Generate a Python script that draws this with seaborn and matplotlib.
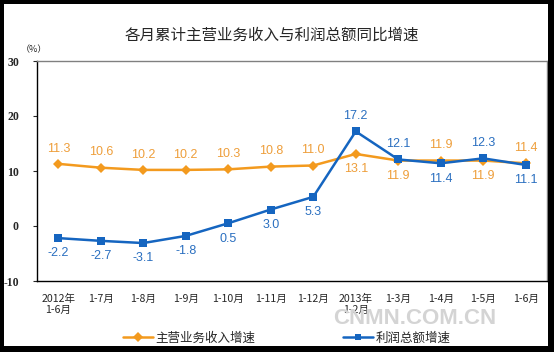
import matplotlib
matplotlib.use('Agg')
import matplotlib.pyplot as plt
import seaborn as sns
import pandas as pd
from matplotlib.patches import Rectangle
from matplotlib.lines import Line2D

categories = ["2012年\n1-6月", "1-7月", "1-8月", "1-9月", "1-10月", "1-11月", "1-12月",
              "2013年\n1-2月", "1-3月", "1-4月", "1-5月", "1-6月"]
revenue = [11.3, 10.6, 10.2, 10.2, 10.3, 10.8, 11.0, 13.1, 11.9, 11.9, 11.9, 11.4]
profit = [-2.2, -2.7, -3.1, -1.8, 0.5, 3.0, 5.3, 17.2, 12.1, 11.4, 12.3, 11.1]
revenue_label_side = ['above'] * 7 + ['below', 'below', 'above', 'below', 'above']
profit_label_side = ['below'] * 7 + ['above', 'above', 'below', 'above', 'below']
series_names = ["主营业务收入增速", "利润总额增速"]
yticks = [-10, 0, 10, 20, 30]
title = "各月累计主营业务收入与利润总额同比增速"

sns.set_style("white")
plt.rcParams['font.family'] = ['Noto Sans CJK SC', 'DejaVu Sans']

ORANGE = "#F39A1E"
ORANGE_TXT = "#EE9E3A"
BLUE = "#1565C0"
BLUE_TXT = "#2A6FC0"

df = pd.DataFrame({
    'idx': list(range(len(categories))) * 2,
    'value': revenue + profit,
    'series': [series_names[0]] * len(categories) + [series_names[1]] * len(categories),
})

fig = plt.figure(figsize=(5.54, 3.52), dpi=100)
ax = fig.add_axes([37 / 554, 1 - 281 / 352, (547 - 37) / 554, (281 - 61) / 352])

sns.lineplot(data=df, x='idx', y='value', hue='series', style='series',
             hue_order=series_names, style_order=series_names,
             palette={series_names[0]: ORANGE, series_names[1]: BLUE},
             markers={series_names[0]: 'D', series_names[1]: 's'},
             dashes=False, linewidth=1.8, markersize=5.5, markeredgewidth=0,
             legend=False, ax=ax)

for i, (v, side) in enumerate(zip(revenue, revenue_label_side)):
    off = 11 if side == 'above' else -11
    ax.annotate(f"{v:.1f}", (i, v), xytext=(0, off), textcoords='offset points',
                ha='center', va='center', color=ORANGE_TXT, fontsize=9,
                family='Liberation Sans')
for i, (v, side) in enumerate(zip(profit, profit_label_side)):
    off = 11 if side == 'above' else -11
    ax.annotate(f"{v:.1f}", (i, v), xytext=(0, off), textcoords='offset points',
                ha='center', va='center', color=BLUE_TXT, fontsize=9,
                family='Liberation Sans')

ax.set_xlim(-0.5, len(categories) - 0.5)
ax.set_ylim(yticks[0], yticks[-1])
ax.set_yticks(yticks)
ax.set_yticklabels([str(t) for t in yticks], family='Liberation Serif', fontsize=8.5,
                   fontweight='bold')
ax.set_xticks(range(len(categories)))
ax.set_xticklabels(categories, fontsize=7.6, linespacing=1.15)
ax.set_xticks([i + 0.5 for i in range(len(categories) - 1)], minor=True)
ax.tick_params(axis='x', which='major', length=0, pad=9)
ax.tick_params(axis='x', which='minor', length=4, direction='in', width=0.8, color='black')
ax.tick_params(axis='y', which='major', length=3, direction='out', width=0.8, pad=10, left=True)
ax.set_xlabel('')
ax.set_ylabel('')

for s in ['left', 'bottom']:
    ax.spines[s].set_color('black')
    ax.spines[s].set_linewidth(1.0)
for s in ['top', 'right']:
    ax.spines[s].set_color('#808080')
    ax.spines[s].set_linewidth(1.0)
    ax.spines[s].set_visible(True)

fig.text(272 / 554, 1 - 35 / 352, title, ha='center', va='center', fontsize=11.2)
fig.text(34 / 554, 1 - 50 / 352, "（%）", ha='center', va='center', fontsize=6.5)

handles = [Line2D([], [], color=ORANGE, marker='D', markersize=5, linewidth=1.8, markeredgewidth=0),
           Line2D([], [], color=BLUE, marker='s', markersize=5, linewidth=1.8, markeredgewidth=0)]
fig.legend(handles, series_names, loc='center', bbox_to_anchor=(287 / 554, 1 - 338 / 352),
           ncol=2, frameon=False, fontsize=9, handlelength=2.4, handletextpad=0.2,
           columnspacing=7.0, borderaxespad=0)

fig.text(415 / 554, 1 - 319 / 352, "CNMN.COM.CN", ha='center', va='center', fontsize=16,
         family='Liberation Sans', fontweight='bold', color='#d4d4d4')

for rect in [(0, 0, 4 / 554, 1), (548 / 554, 0, 6 / 554, 1),
             (0, 0, 1, 6 / 352), (0, 1 - 4 / 352, 1, 4 / 352)]:
    fig.add_artist(Rectangle(rect[:2], rect[2], rect[3], transform=fig.transFigure,
                             facecolor='black', edgecolor='none', zorder=10))

fig.savefig('out.png', dpi=100)
